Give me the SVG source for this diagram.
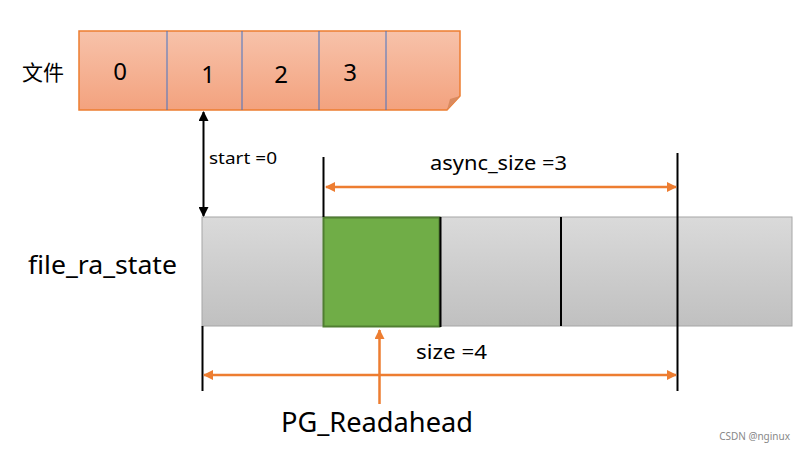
<svg xmlns="http://www.w3.org/2000/svg" width="805" height="451" viewBox="0 0 805 451">
<defs>
<linearGradient id="gOr" x1="0" y1="0" x2="0" y2="1"><stop offset="0" stop-color="#F7C2AA"/><stop offset="1" stop-color="#F3A27E"/></linearGradient>
<linearGradient id="gGr" x1="0" y1="0" x2="0" y2="1"><stop offset="0" stop-color="#DADADA"/><stop offset="1" stop-color="#C0C0C0"/></linearGradient>
<marker id="ab" viewBox="0 0 10 10" refX="9" refY="5" markerWidth="10" markerHeight="10" markerUnits="userSpaceOnUse" orient="auto-start-reverse"><path d="M0,0 L10,5 L0,10 z" fill="#000"/></marker>
<marker id="ao" viewBox="0 0 10 10" refX="9" refY="5" markerWidth="10" markerHeight="10" markerUnits="userSpaceOnUse" orient="auto-start-reverse"><path d="M0,0 L10,5 L0,10 z" fill="#ED7D31"/></marker>
</defs>
<style>
text{font-family:"Noto Sans","Noto Sans CJK SC",sans-serif;fill:#000}
.cn{font-family:"Noto Sans CJK SC",sans-serif}
.bl{stroke:#000;stroke-width:2;fill:none}
.or{stroke:#ED7D31;stroke-width:2.5;fill:none}
.div{stroke:#4472C4;stroke-width:1}
.num{font-size:24px}
</style>
<rect width="805" height="451" fill="#fff"/>
<g id="file">
<path d="M79,31 H460 V96 L447,110 H79 Z" fill="url(#gOr)" stroke="#ED7D31" stroke-width="1.5"/>
<path d="M447,110 L450,99 L460,96 Z" fill="#D98A5F"/>
<line class="div" x1="167" y1="31" x2="167" y2="110"/>
<line class="div" x1="242" y1="31" x2="242" y2="110"/>
<line class="div" x1="319" y1="31" x2="319" y2="110"/>
<line class="div" x1="386" y1="31" x2="386" y2="110"/>
<text class="num" x="120" y="80" text-anchor="middle">0</text>
<text class="num" x="208" y="83" text-anchor="middle">1</text>
<text class="num" x="281" y="83" text-anchor="middle">2</text>
<text class="num" x="350" y="81" text-anchor="middle">3</text>
</g>
<g id="file-label"><text class="cn" x="22" y="80" font-size="21">文件</text></g>
<g id="ra-state">
<rect x="202" y="217" width="590" height="109" fill="url(#gGr)" stroke="#A6A6A6" stroke-width="1"/>
<rect x="323.5" y="217.5" width="116" height="109" fill="#70AD47" stroke="#507E32" stroke-width="2"/>
<line class="bl" x1="440.5" y1="217" x2="440.5" y2="327"/>
<line class="bl" x1="561" y1="217" x2="561" y2="326"/>
</g>
<g id="ra-label"><text x="28" y="274" font-size="25" textLength="149" lengthAdjust="spacingAndGlyphs">file_ra_state</text></g>
<g id="pg-label"><text x="281" y="432" font-size="27" textLength="192" lengthAdjust="spacingAndGlyphs">PG_Readahead</text></g>
<g id="connectors">
<line class="bl" x1="323.5" y1="157" x2="323.5" y2="217"/>
<line class="bl" x1="677.5" y1="153" x2="677.5" y2="391"/>
<line class="bl" x1="202.5" y1="326" x2="202.5" y2="391"/>
<line class="bl" x1="203.5" y1="112" x2="203.5" y2="216" marker-start="url(#ab)" marker-end="url(#ab)"/>
<line class="or" x1="326" y1="187" x2="676" y2="187" marker-start="url(#ao)" marker-end="url(#ao)"/>
<line class="or" x1="204" y1="375" x2="676" y2="375" marker-start="url(#ao)" marker-end="url(#ao)"/>
<line class="or" x1="379.5" y1="404" x2="379.5" y2="330" marker-end="url(#ao)"/>
</g>
<g id="dim-labels">
<text x="209" y="164" font-size="17" textLength="68" lengthAdjust="spacingAndGlyphs">start =0</text>
<text x="430" y="170" font-size="20" textLength="137" lengthAdjust="spacingAndGlyphs">async_size =3</text>
<text x="416" y="359" font-size="19" textLength="71" lengthAdjust="spacingAndGlyphs">size =4</text>
</g>
<text x="790" y="440" font-size="10" text-anchor="end" style="fill:#888">CSDN @nginux</text>
</svg>
